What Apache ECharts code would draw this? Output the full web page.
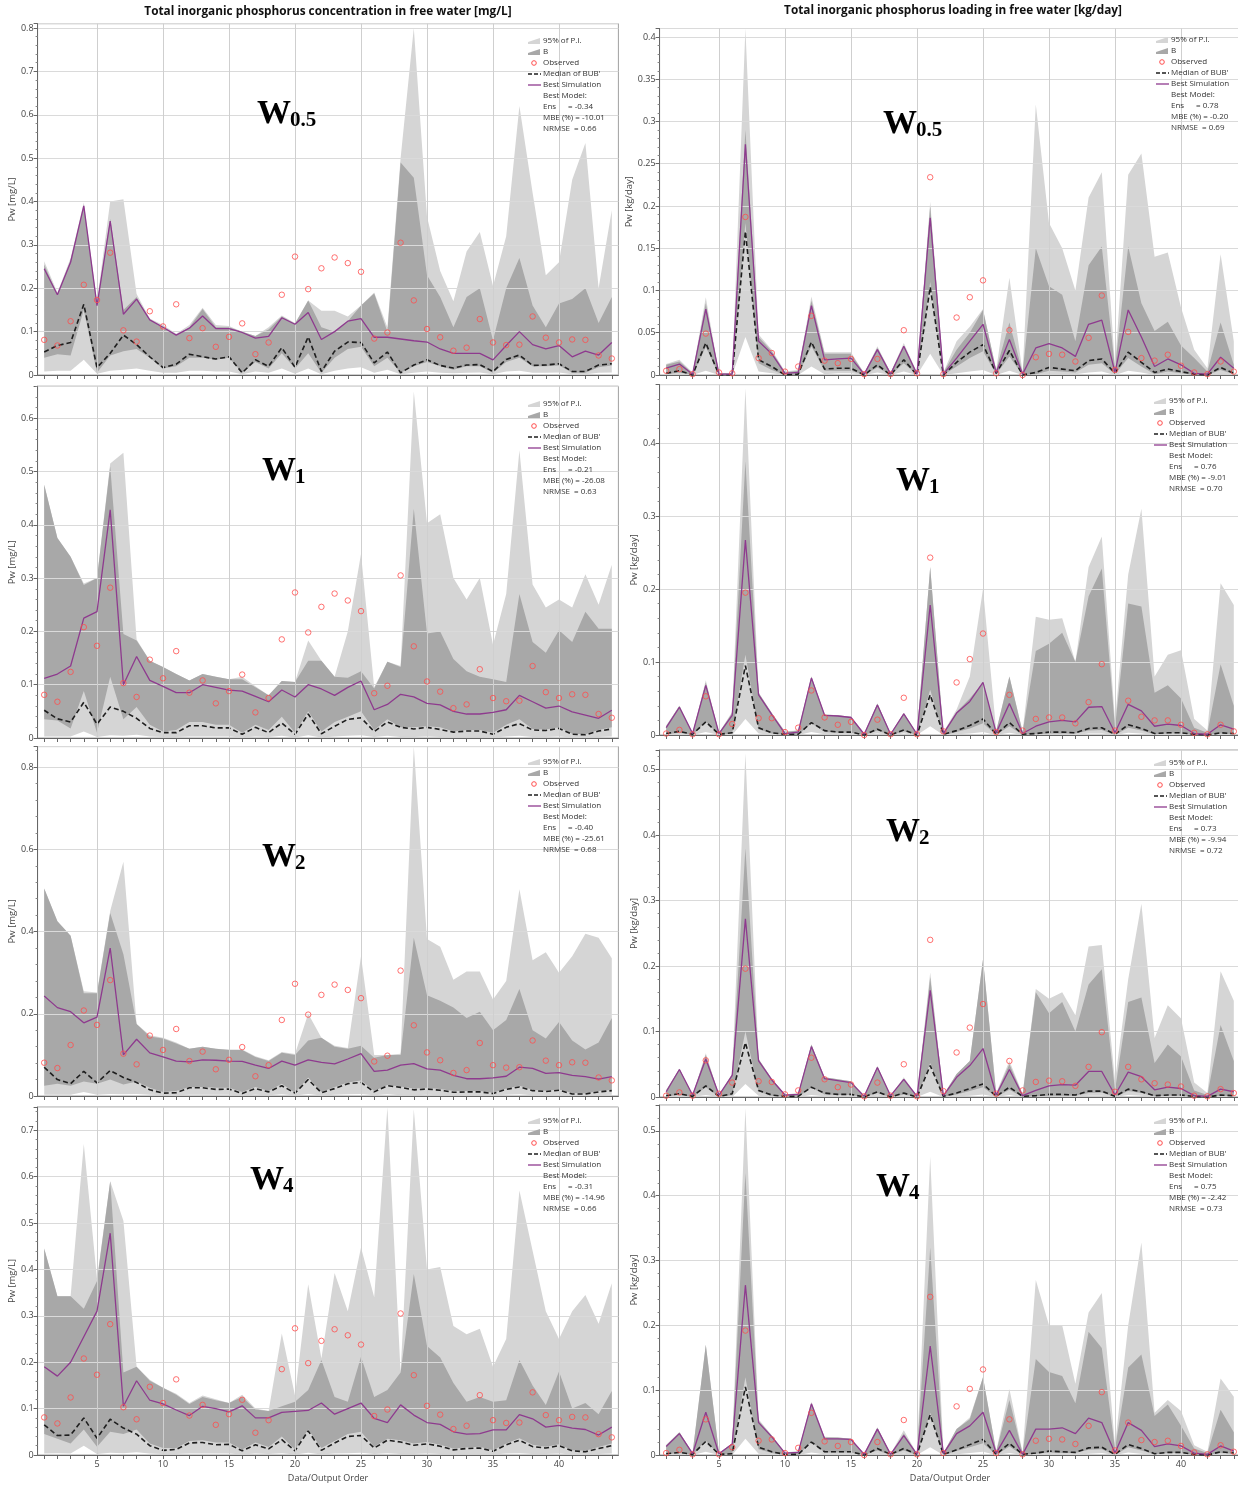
<!DOCTYPE html>
<html><head><meta charset="utf-8">
<script src="https://cdn.jsdelivr.net/npm/echarts@6/dist/echarts.min.js"></script>
<style>html,body{margin:0;padding:0;background:#fff}#c{width:1238px;height:1485px}</style>
</head><body><div id="c"></div>
<script>
// ---------- DATA ----------
const order = [1,2,3,4,5,6,7,8,9,10,11,12,13,14,15,16,17,18,19,20,21,22,23,24,25,26,27,28,29,30,31,32,33,34,35,36,37,38,39,40,41,42,43,44];
const xTickLabels = [5,10,15,20,25,30,35,40];

// Observed concentration [mg/L] (same in all left panels)
const obsConc = [0.081,0.068,0.124,0.208,0.173,0.282,0.103,0.077,0.147,0.112,0.163,0.085,0.108,0.065,0.088,0.119,0.048,0.075,0.185,0.273,0.198,0.246,0.271,0.258,0.238,0.084,0.098,0.305,0.172,0.106,0.087,0.056,0.063,0.129,0.075,0.069,0.07,0.135,0.086,0.075,0.082,0.081,0.045,0.038];

// W0.5 concentration
const c05_piLo = [0.008,0.01,0.01,0.035,0.003,0.01,0.012,0.015,0.01,0.005,0.005,0.01,0.01,0.008,0.008,0.002,0.008,0.005,0.015,0.003,0.015,0.002,0.01,0.015,0.018,0.005,0.012,0.002,0.005,0.008,0.005,0.004,0.005,0.006,0.002,0.008,0.01,0.005,0.005,0.006,0.002,0.002,0.005,0.006];
const c05_piHi = [0.262,0.19,0.27,0.398,0.17,0.4,0.405,0.187,0.13,0.115,0.095,0.115,0.155,0.115,0.113,0.1,0.09,0.11,0.137,0.12,0.172,0.148,0.148,0.135,0.16,0.19,0.11,0.5,0.8,0.365,0.24,0.17,0.285,0.33,0.205,0.32,0.62,0.42,0.23,0.26,0.45,0.535,0.2,0.38];
const c05_bLo = [0.04,0.048,0.045,0.15,0.005,0.045,0.055,0.06,0.04,0.015,0.02,0.04,0.04,0.035,0.04,0.005,0.03,0.015,0.05,0.015,0.05,0.005,0.04,0.06,0.065,0.02,0.04,0.005,0.02,0.03,0.02,0.012,0.02,0.02,0.005,0.03,0.04,0.02,0.02,0.022,0.005,0.005,0.018,0.022];
const c05_bHi = [0.255,0.185,0.265,0.39,0.165,0.36,0.15,0.18,0.127,0.11,0.093,0.11,0.152,0.11,0.11,0.1,0.09,0.105,0.135,0.118,0.172,0.11,0.1,0.124,0.16,0.188,0.1,0.49,0.455,0.23,0.18,0.11,0.18,0.2,0.08,0.2,0.27,0.16,0.11,0.165,0.175,0.2,0.12,0.18];
const c05_med = [0.053,0.068,0.075,0.163,0.017,0.05,0.092,0.07,0.042,0.017,0.025,0.048,0.042,0.037,0.042,0.005,0.035,0.02,0.063,0.018,0.088,0.008,0.055,0.076,0.075,0.028,0.053,0.005,0.023,0.035,0.022,0.016,0.023,0.024,0.008,0.036,0.046,0.022,0.023,0.026,0.008,0.008,0.023,0.026];
const c05_best = [0.245,0.185,0.26,0.39,0.16,0.355,0.14,0.175,0.127,0.11,0.092,0.108,0.136,0.107,0.107,0.098,0.085,0.089,0.132,0.117,0.144,0.082,0.1,0.124,0.13,0.087,0.087,0.083,0.079,0.076,0.06,0.05,0.05,0.05,0.035,0.068,0.1,0.07,0.06,0.068,0.042,0.055,0.046,0.075];

// W1 concentration
const c1_piLo = [0.003,0.003,0.003,0.012,0.002,0.005,0.004,0.006,0.003,0.002,0.002,0.003,0.003,0.003,0.003,0.001,0.003,0.002,0.004,0.001,0.005,0.001,0.003,0.004,0.005,0.002,0.004,0.002,0.002,0.003,0.002,0.002,0.002,0.002,0.001,0.003,0.004,0.002,0.002,0.003,0.001,0.001,0.002,0.003];
const c1_piHi = [0.475,0.375,0.34,0.29,0.3,0.515,0.535,0.185,0.145,0.133,0.12,0.108,0.12,0.115,0.11,0.115,0.097,0.08,0.107,0.105,0.183,0.145,0.115,0.2,0.345,0.095,0.143,0.135,0.65,0.403,0.42,0.3,0.26,0.3,0.175,0.27,0.54,0.288,0.245,0.26,0.245,0.307,0.25,0.325];
const c1_bLo = [0.035,0.033,0.018,0.088,0.01,0.115,0.035,0.058,0.025,0.012,0.015,0.03,0.03,0.025,0.025,0.01,0.025,0.015,0.04,0.01,0.05,0.012,0.03,0.04,0.05,0.015,0.035,0.02,0.02,0.022,0.02,0.012,0.015,0.015,0.01,0.025,0.035,0.017,0.016,0.02,0.008,0.007,0.015,0.02];
const c1_bHi = [0.475,0.375,0.34,0.287,0.3,0.51,0.195,0.183,0.145,0.133,0.12,0.108,0.12,0.115,0.11,0.11,0.095,0.08,0.107,0.105,0.145,0.145,0.115,0.113,0.125,0.093,0.143,0.133,0.43,0.196,0.2,0.148,0.125,0.115,0.11,0.105,0.27,0.18,0.16,0.202,0.18,0.237,0.205,0.205];
const c1_med = [0.052,0.036,0.03,0.067,0.026,0.058,0.05,0.037,0.018,0.01,0.01,0.023,0.023,0.019,0.019,0.007,0.02,0.01,0.028,0.007,0.045,0.008,0.022,0.035,0.038,0.012,0.03,0.02,0.017,0.02,0.016,0.011,0.013,0.013,0.007,0.02,0.027,0.015,0.014,0.018,0.007,0.006,0.013,0.017];
const c1_best = [0.112,0.12,0.135,0.225,0.237,0.428,0.1,0.153,0.108,0.097,0.085,0.085,0.1,0.095,0.09,0.088,0.078,0.068,0.09,0.077,0.1,0.092,0.08,0.095,0.107,0.053,0.063,0.082,0.077,0.065,0.062,0.05,0.045,0.045,0.048,0.053,0.08,0.068,0.056,0.06,0.049,0.043,0.037,0.052];

// W2 concentration
const c2_piLo = [0.003,0.003,0.003,0.01,0.003,0.005,0.004,0.005,0.003,0.002,0.002,0.003,0.003,0.003,0.003,0.001,0.003,0.002,0.004,0.001,0.005,0.001,0.003,0.004,0.005,0.002,0.004,0.002,0.002,0.003,0.002,0.002,0.002,0.002,0.001,0.003,0.004,0.002,0.002,0.003,0.001,0.001,0.002,0.003];
const c2_piHi = [0.505,0.425,0.39,0.255,0.252,0.45,0.57,0.175,0.148,0.142,0.13,0.115,0.12,0.115,0.113,0.113,0.097,0.087,0.107,0.102,0.2,0.142,0.122,0.117,0.34,0.1,0.1,0.103,0.85,0.382,0.363,0.283,0.303,0.303,0.235,0.28,0.503,0.33,0.35,0.3,0.34,0.395,0.385,0.335];
const c2_bLo = [0.025,0.03,0.025,0.035,0.03,0.04,0.028,0.035,0.02,0.01,0.012,0.022,0.022,0.02,0.02,0.01,0.022,0.012,0.03,0.008,0.045,0.01,0.022,0.033,0.038,0.012,0.027,0.023,0.018,0.02,0.017,0.012,0.012,0.012,0.008,0.018,0.025,0.015,0.013,0.016,0.007,0.006,0.012,0.015];
const c2_bHi = [0.505,0.425,0.39,0.25,0.25,0.445,0.345,0.175,0.145,0.14,0.128,0.115,0.12,0.115,0.112,0.112,0.095,0.085,0.105,0.1,0.135,0.142,0.12,0.115,0.122,0.093,0.1,0.1,0.385,0.245,0.232,0.215,0.19,0.205,0.16,0.185,0.26,0.16,0.14,0.18,0.135,0.113,0.13,0.19];
const c2_med = [0.07,0.04,0.03,0.06,0.032,0.062,0.045,0.033,0.015,0.007,0.008,0.02,0.02,0.016,0.017,0.006,0.018,0.01,0.025,0.007,0.04,0.008,0.018,0.03,0.033,0.01,0.025,0.021,0.015,0.017,0.014,0.009,0.01,0.01,0.006,0.016,0.022,0.013,0.011,0.014,0.005,0.005,0.01,0.013];
const c2_best = [0.243,0.215,0.205,0.178,0.192,0.36,0.1,0.138,0.105,0.095,0.085,0.083,0.088,0.087,0.085,0.084,0.075,0.067,0.085,0.075,0.088,0.082,0.078,0.09,0.103,0.06,0.063,0.075,0.079,0.066,0.063,0.05,0.042,0.042,0.044,0.048,0.07,0.067,0.055,0.057,0.05,0.047,0.041,0.047];

// W4 concentration
const c4_piLo = [0.003,0.004,0.003,0.02,0.002,0.005,0.004,0.006,0.003,0.002,0.002,0.003,0.003,0.003,0.003,0.001,0.003,0.002,0.004,0.001,0.005,0.001,0.003,0.004,0.005,0.002,0.004,0.002,0.002,0.003,0.002,0.002,0.002,0.002,0.001,0.003,0.004,0.002,0.002,0.003,0.001,0.001,0.002,0.003];
const c4_piHi = [0.445,0.342,0.342,0.67,0.38,0.59,0.505,0.19,0.162,0.145,0.132,0.112,0.128,0.12,0.112,0.13,0.1,0.095,0.262,0.128,0.368,0.208,0.392,0.31,0.447,0.34,0.75,0.178,0.745,0.4,0.405,0.278,0.26,0.272,0.19,0.25,0.57,0.44,0.31,0.25,0.31,0.345,0.283,0.37];
const c4_bLo = [0.045,0.035,0.025,0.055,0.018,0.05,0.045,0.055,0.025,0.015,0.015,0.03,0.032,0.027,0.027,0.012,0.027,0.017,0.04,0.012,0.055,0.015,0.03,0.045,0.05,0.018,0.035,0.032,0.025,0.028,0.022,0.014,0.016,0.018,0.01,0.025,0.036,0.022,0.018,0.023,0.01,0.009,0.017,0.025];
const c4_bHi = [0.445,0.342,0.342,0.315,0.375,0.59,0.178,0.19,0.16,0.145,0.13,0.11,0.125,0.118,0.112,0.125,0.098,0.095,0.105,0.115,0.14,0.205,0.125,0.115,0.212,0.125,0.14,0.178,0.39,0.235,0.21,0.155,0.115,0.125,0.115,0.118,0.205,0.15,0.108,0.18,0.1,0.112,0.088,0.138];
const c4_med = [0.065,0.042,0.043,0.08,0.036,0.077,0.058,0.045,0.02,0.01,0.012,0.026,0.027,0.022,0.023,0.009,0.022,0.013,0.033,0.009,0.052,0.01,0.026,0.04,0.042,0.015,0.032,0.028,0.021,0.024,0.019,0.011,0.014,0.015,0.008,0.022,0.032,0.018,0.015,0.02,0.009,0.007,0.014,0.02];
const c4_best = [0.19,0.17,0.2,0.255,0.31,0.478,0.105,0.16,0.118,0.11,0.097,0.085,0.105,0.1,0.093,0.106,0.08,0.08,0.092,0.094,0.096,0.112,0.088,0.1,0.112,0.079,0.07,0.108,0.086,0.07,0.066,0.05,0.045,0.046,0.054,0.054,0.087,0.078,0.06,0.064,0.058,0.055,0.043,0.06];

// W0.5 loading [kg/day]
const l05_obs = [0.005,0.007,0.001,0.049,0.003,0.002,0.187,0.02,0.026,0.004,0.01,0.07,0.017,0.014,0.019,0.001,0.019,0.001,0.053,0.002,0.234,0.001,0.068,0.092,0.112,0.002,0.053,0,0.021,0.025,0.024,0.016,0.044,0.094,0.006,0.051,0.02,0.017,0.024,0.011,0.003,0.001,0.016,0.004];
const l05_piLo = [0,0.001,0,0.005,0,0,0.045,0.004,0.002,0,0,0.01,0.001,0.002,0.002,0,0.003,0,0.004,0,0.025,0,0.002,0.004,0.006,0,0.005,0,0,0.001,0.001,0.001,0.003,0.004,0,0.005,0.003,0,0.001,0,0,0,0.001,0];
const l05_piHi = [0.013,0.018,0.003,0.092,0.002,0.002,0.41,0.048,0.03,0.004,0.006,0.093,0.027,0.027,0.027,0.002,0.034,0.003,0.038,0.003,0.205,0.003,0.04,0.057,0.078,0.006,0.115,0.003,0.32,0.18,0.15,0.1,0.21,0.24,0.01,0.237,0.262,0.14,0.145,0.08,0.03,0.008,0.143,0.04];
const l05_bLo = [0.001,0.003,0,0.033,0,0,0.18,0.014,0.006,0,0,0.034,0.005,0.005,0.005,0,0.009,0,0.014,0,0.11,0,0.01,0.02,0.028,0.001,0.022,0,0.001,0.005,0.004,0.003,0.012,0.014,0.001,0.02,0.01,0.001,0.004,0.002,0,0,0.006,0.001];
const l05_bHi = [0.012,0.016,0.002,0.085,0.002,0.002,0.29,0.045,0.028,0.003,0.005,0.088,0.025,0.025,0.025,0.002,0.032,0.003,0.035,0.003,0.2,0.003,0.03,0.05,0.077,0.006,0.062,0.003,0.15,0.105,0.095,0.04,0.13,0.152,0.008,0.152,0.085,0.052,0.063,0.035,0.02,0.004,0.062,0.012];
const l05_med = [0.002,0.005,0,0.038,0,0,0.17,0.018,0.01,0,0.001,0.039,0.007,0.008,0.008,0,0.012,0,0.018,0,0.104,0,0.015,0.027,0.036,0.002,0.029,0,0.003,0.009,0.007,0.005,0.017,0.019,0.002,0.027,0.015,0.003,0.007,0.004,0.001,0,0.009,0.002];
const l05_best = [0.008,0.013,0.001,0.078,0.001,0.001,0.273,0.04,0.025,0.002,0.003,0.082,0.018,0.019,0.02,0.001,0.03,0.001,0.034,0.001,0.186,0.001,0.02,0.04,0.06,0.003,0.042,0.001,0.032,0.037,0.032,0.022,0.06,0.065,0.003,0.077,0.045,0.01,0.019,0.012,0.002,0.001,0.021,0.008];

// W1 loading
const l1_obs = [0.002,0.007,0.001,0.053,0.001,0.015,0.195,0.023,0.023,0.004,0.01,0.061,0.024,0.014,0.018,0,0.021,0.001,0.051,0.001,0.243,0.005,0.072,0.104,0.139,0.004,0.055,0.006,0.022,0.024,0.024,0.016,0.045,0.097,0.006,0.047,0.025,0.02,0.02,0.014,0.003,0.001,0.014,0.005];
const l1_piLo = [0,0,0,0.004,0,0,0.022,0.002,0,0,0,0.004,0.001,0.001,0.001,0,0.002,0,0.002,0,0.012,0,0.001,0.002,0.004,0,0.003,0,0,0.001,0.001,0,0.002,0.002,0,0.003,0.002,0,0,0,0,0,0,0];
const l1_piHi = [0.013,0.04,0.003,0.075,0.003,0.032,0.475,0.058,0.03,0.005,0.006,0.08,0.028,0.027,0.025,0.002,0.043,0.002,0.03,0.002,0.23,0.004,0.035,0.08,0.2,0.006,0.08,0.005,0.162,0.158,0.16,0.1,0.23,0.272,0.02,0.22,0.31,0.08,0.11,0.116,0.022,0.006,0.208,0.178];
const l1_bLo = [0.001,0.003,0,0.018,0,0.002,0.11,0.008,0.002,0,0,0.016,0.004,0.003,0.003,0,0.006,0,0.005,0,0.062,0,0.004,0.009,0.016,0,0.012,0,0.001,0.002,0.002,0.002,0.006,0.007,0,0.01,0.006,0.001,0.002,0.002,0,0,0.002,0.001];
const l1_bHi = [0.012,0.04,0.003,0.072,0.003,0.03,0.375,0.058,0.03,0.004,0.006,0.08,0.028,0.027,0.025,0.002,0.043,0.002,0.03,0.002,0.23,0.003,0.032,0.05,0.072,0.005,0.08,0.004,0.115,0.125,0.14,0.1,0.19,0.228,0.01,0.18,0.176,0.058,0.068,0.05,0.01,0.003,0.097,0.04];
const l1_med = [0.002,0.005,0.001,0.018,0.001,0.003,0.095,0.01,0.003,0.001,0.001,0.017,0.006,0.004,0.004,0,0.008,0,0.007,0,0.055,0.001,0.006,0.013,0.022,0.001,0.017,0.001,0.002,0.004,0.004,0.003,0.009,0.01,0.001,0.014,0.009,0.002,0.003,0.003,0.001,0,0.003,0.002];
const l1_best = [0.01,0.038,0.002,0.068,0.002,0.027,0.267,0.055,0.028,0.002,0.004,0.078,0.027,0.026,0.024,0.001,0.041,0.001,0.029,0.001,0.178,0.002,0.03,0.046,0.072,0.003,0.043,0.002,0.012,0.018,0.02,0.018,0.038,0.039,0.003,0.042,0.033,0.012,0.015,0.013,0.002,0.001,0.014,0.008];

// W2 loading
const l2_obs = [0.002,0.007,0.002,0.056,0.005,0.022,0.196,0.024,0.023,0.004,0.01,0.06,0.027,0.015,0.019,0.001,0.022,0.002,0.05,0.001,0.24,0.009,0.068,0.106,0.142,0.005,0.055,0.01,0.023,0.025,0.024,0.017,0.046,0.099,0.008,0.046,0.027,0.021,0.019,0.016,0.002,0.001,0.012,0.006];
const l2_piLo = [0,0,0,0.003,0,0,0.02,0.002,0,0,0,0.003,0.001,0.001,0.001,0,0.002,0,0.002,0,0.008,0,0.001,0.002,0.004,0,0.003,0,0,0.001,0.001,0,0.002,0.002,0,0.003,0.002,0,0,0,0,0,0,0];
const l2_piHi = [0.011,0.043,0.003,0.067,0.003,0.035,0.525,0.058,0.028,0.004,0.006,0.08,0.03,0.027,0.024,0.002,0.047,0.002,0.03,0.002,0.19,0.003,0.035,0.055,0.21,0.006,0.055,0.005,0.165,0.15,0.16,0.125,0.23,0.232,0.025,0.18,0.295,0.09,0.14,0.12,0.022,0.006,0.192,0.147];
const l2_bLo = [0.001,0.003,0,0.015,0,0.003,0.1,0.008,0.002,0,0,0.014,0.004,0.003,0.003,0,0.006,0,0.004,0,0.052,0,0.004,0.009,0.015,0,0.011,0,0.001,0.002,0.002,0.002,0.006,0.007,0,0.009,0.006,0.001,0.002,0.002,0,0,0.002,0.001];
const l2_bHi = [0.01,0.043,0.003,0.064,0.003,0.035,0.38,0.058,0.028,0.004,0.005,0.08,0.03,0.027,0.024,0.002,0.047,0.002,0.028,0.002,0.183,0.003,0.035,0.055,0.21,0.005,0.05,0.004,0.16,0.128,0.145,0.1,0.172,0.195,0.01,0.145,0.152,0.052,0.08,0.062,0.01,0.003,0.11,0.055];
const l2_med = [0.002,0.005,0.001,0.017,0.001,0.005,0.083,0.01,0.003,0.001,0.001,0.015,0.006,0.004,0.004,0,0.008,0,0.006,0,0.048,0.001,0.006,0.013,0.02,0.001,0.015,0.001,0.002,0.004,0.004,0.003,0.009,0.009,0.001,0.012,0.008,0.002,0.003,0.003,0.001,0,0.003,0.002];
const l2_best = [0.008,0.042,0.003,0.058,0.003,0.033,0.272,0.055,0.026,0.003,0.004,0.077,0.028,0.025,0.022,0.001,0.045,0.002,0.027,0.001,0.163,0.002,0.03,0.048,0.074,0.003,0.042,0.002,0.01,0.017,0.019,0.018,0.039,0.039,0.003,0.038,0.031,0.011,0.015,0.013,0.002,0.001,0.012,0.008];

// W4 loading
const l4_obs = [0.003,0.008,0.001,0.055,0.001,0.012,0.192,0.022,0.024,0.003,0.011,0.065,0.021,0.014,0.02,0,0.02,0.001,0.054,0.001,0.244,0.003,0.075,0.102,0.132,0.003,0.055,0.001,0.022,0.025,0.024,0.017,0.045,0.097,0.007,0.05,0.023,0.02,0.022,0.014,0.004,0.001,0.015,0.005];
const l4_piLo = [0,0,0,0.005,0,0,0.025,0.002,0,0,0,0.004,0.001,0.001,0.001,0,0.002,0,0.002,0,0.012,0,0.001,0.003,0.005,0,0.003,0,0,0.001,0.001,0,0.002,0.003,0,0.004,0.002,0,0,0,0,0,0,0];
const l4_piHi = [0.016,0.035,0.003,0.17,0.003,0.018,0.535,0.055,0.03,0.004,0.006,0.082,0.028,0.027,0.025,0.002,0.043,0.002,0.038,0.002,0.46,0.003,0.04,0.058,0.12,0.006,0.102,0.004,0.27,0.2,0.2,0.11,0.22,0.25,0.015,0.2,0.328,0.065,0.085,0.068,0.015,0.005,0.118,0.09];
const l4_bLo = [0.001,0.003,0,0.022,0,0.001,0.12,0.009,0.003,0,0,0.02,0.004,0.004,0.004,0,0.007,0,0.007,0,0.065,0,0.006,0.012,0.018,0,0.013,0,0.002,0.004,0.003,0.003,0.008,0.009,0,0.012,0.007,0.001,0.003,0.003,0,0,0.003,0.002];
const l4_bHi = [0.015,0.035,0.003,0.17,0.003,0.018,0.435,0.053,0.03,0.004,0.005,0.08,0.027,0.027,0.025,0.002,0.042,0.002,0.033,0.002,0.32,0.003,0.04,0.055,0.12,0.005,0.085,0.003,0.148,0.128,0.122,0.08,0.19,0.165,0.01,0.135,0.155,0.06,0.078,0.045,0.01,0.003,0.07,0.035];
const l4_med = [0.002,0.004,0.001,0.021,0.001,0.002,0.105,0.012,0.005,0.001,0.001,0.02,0.005,0.005,0.005,0,0.01,0.001,0.01,0.001,0.062,0.001,0.008,0.016,0.024,0.001,0.018,0.001,0.003,0.006,0.005,0.004,0.011,0.012,0.001,0.016,0.01,0.002,0.004,0.004,0.001,0,0.005,0.003];
const l4_best = [0.013,0.033,0.002,0.066,0.002,0.017,0.262,0.05,0.028,0.003,0.004,0.079,0.025,0.025,0.024,0.001,0.04,0.001,0.03,0.001,0.168,0.002,0.033,0.045,0.066,0.003,0.038,0.001,0.04,0.04,0.042,0.033,0.057,0.05,0.003,0.05,0.038,0.013,0.017,0.014,0.003,0.001,0.014,0.006];

// Best-model statistics text [Ens, MBE, NRMSE]
const stats_c05 = ['-0.34','-10.01','0.66'];
const stats_l05 = ['0.78','-0.20','0.69'];
const stats_c1 = ['-0.21','-26.08','0.63'];
const stats_l1 = ['0.76','-9.01','0.70'];
const stats_c2 = ['-0.40','-25.61','0.68'];
const stats_l2 = ['0.73','-9.94','0.72'];
const stats_c4 = ['-0.31','-14.96','0.66'];
const stats_l4 = ['0.75','-2.42','0.73'];
const legendNames = ['95% of P.I.', 'B', 'Observed', "Median of BUB'", 'Best Simulation'];

// ---------- STYLE / LAYOUT ----------
const FONT = "'Open Sans','Liberation Sans',sans-serif";
const SERIF = "'Liberation Serif','Times New Roman',serif";
const LIGHT = '#d5d5d5', DARK = '#a8a8a8', PURPLE = '#8e3a8e', RED = '#ff4d4d', MEDC = '#1e1e1e';
const colL = {left: 37.6, width: 580.8};
const colR = {left: 659.6, width: 580.8};

const panels = [
  {col: colL, top: 23.7, h: 351.3, max: 0.81, iv: 0.1, unit: 'mg/L', sub: '0.5', w: [257, 114], lg: [528, 41], st: stats_c05,
   d: {piLo: c05_piLo, piHi: c05_piHi, bLo: c05_bLo, bHi: c05_bHi, med: c05_med, best: c05_best, obs: obsConc}},
  {col: colR, top: 28.5, h: 346.5, max: 0.41, iv: 0.05, unit: 'kg/day', sub: '0.5', w: [883, 124], lg: [1156, 40], st: stats_l05,
   d: {piLo: l05_piLo, piHi: l05_piHi, bLo: l05_bLo, bHi: l05_bHi, med: l05_med, best: l05_best, obs: l05_obs}},
  {col: colL, top: 386.2, h: 351.8, max: 0.66, iv: 0.1, unit: 'mg/L', sub: '1', w: [262, 471], lg: [528, 404], st: stats_c1,
   d: {piLo: c1_piLo, piHi: c1_piHi, bLo: c1_bLo, bHi: c1_bHi, med: c1_med, best: c1_best, obs: obsConc}},
  {col: colR, top: 384.6, h: 350.4, max: 0.48, iv: 0.1, unit: 'kg/day', sub: '1', w: [896, 481], lg: [1154, 401], st: stats_l1,
   d: {piLo: l1_piLo, piHi: l1_piHi, bLo: l1_bLo, bHi: l1_bHi, med: l1_med, best: l1_best, obs: l1_obs}},
  {col: colL, top: 746.6, h: 349.4, max: 0.85, iv: 0.2, unit: 'mg/L', sub: '2', w: [262, 857], lg: [528, 762], st: stats_c2,
   d: {piLo: c2_piLo, piHi: c2_piHi, bLo: c2_bLo, bHi: c2_bHi, med: c2_med, best: c2_best, obs: obsConc}},
  {col: colR, top: 750, h: 347, max: 0.53, iv: 0.1, unit: 'kg/day', sub: '2', w: [886, 832], lg: [1154, 763], st: stats_l2,
   d: {piLo: l2_piLo, piHi: l2_piHi, bLo: l2_bLo, bHi: l2_bHi, med: l2_med, best: l2_best, obs: l2_obs}},
  {col: colL, top: 1107, h: 348, max: 0.75, iv: 0.1, unit: 'mg/L', sub: '4', w: [250, 1180], lg: [528, 1121], st: stats_c4, bottom: true,
   d: {piLo: c4_piLo, piHi: c4_piHi, bLo: c4_bLo, bHi: c4_bHi, med: c4_med, best: c4_best, obs: obsConc}},
  {col: colR, top: 1105, h: 350, max: 0.54, iv: 0.1, unit: 'kg/day', sub: '4', w: [876, 1187], lg: [1154, 1121], st: stats_l4, bottom: true,
   d: {piLo: l4_piLo, piHi: l4_piHi, bLo: l4_bLo, bHi: l4_bHi, med: l4_med, best: l4_best, obs: l4_obs}}
];

function pairs(arr) { return arr.map((v, i) => [order[i], v]); }

// Band drawn as one polygon through the axes' coordinate conversion
function band(i, name, lo, hi, color) {
  return {type: 'custom', name: name, xAxisIndex: i, yAxisIndex: i, silent: true, z: 2,
    data: order.map((x, k) => [x, lo[k], hi[k]]),
    encode: {x: 0, y: [1, 2]},
    itemStyle: {color: color},
    renderItem: function (params, api) {
      if (params.dataIndex !== 0) return null;
      const pts = [];
      for (let k = 0; k < order.length; k++) pts.push(api.coord([order[k], hi[k]]));
      for (let k = order.length - 1; k >= 0; k--) pts.push(api.coord([order[k], lo[k]]));
      return {type: 'polygon', shape: {points: pts}, style: {fill: color}};
    }};
}

const grid = [], xAxis = [], yAxis = [], series = [], graphic = [];

panels.forEach((p, i) => {
  grid.push({left: p.col.left, top: p.top, width: p.col.width, height: p.h, show: true,
    borderColor: '#a0a0a0', borderWidth: 1, containLabel: false, outerBoundsMode: 'none'});
  xAxis.push({type: 'value', gridIndex: i, min: 0.5, max: 44.5, z: 3,
    splitLine: {show: false},
    axisLine: {show: true, onZero: false, lineStyle: {color: '#666', width: 1}},
    axisTick: {show: true, customValues: order, length: 4, lineStyle: {color: '#666'}},
    axisLabel: {show: !!p.bottom, customValues: xTickLabels, fontSize: 9, color: '#444', fontFamily: FONT, margin: 5},
    name: p.bottom ? 'Data/Output Order' : '', nameLocation: 'middle', nameGap: 19,
    nameTextStyle: {fontSize: 9, color: '#444', fontFamily: FONT}});
  yAxis.push({type: 'value', gridIndex: i, min: 0, max: p.max, interval: p.iv, z: 3,
    axisLine: {show: true, lineStyle: {color: '#666'}},
    axisTick: {show: true, length: 4, lineStyle: {color: '#666'}},
    minorTick: {show: true, splitNumber: 5, length: 2, lineStyle: {color: '#888'}},
    splitLine: {show: true, lineStyle: {color: '#dadada', width: 1.2}},
    axisLabel: {fontSize: 9, color: '#444', fontFamily: FONT, margin: 4, showMaxLabel: false},
    name: 'Pw [' + p.unit + ']', nameLocation: 'middle', nameGap: 20,
    nameTextStyle: {fontSize: 9.5, color: '#444', fontFamily: FONT}});

  const ax = {xAxisIndex: i, yAxisIndex: i};
  series.push(band(i, '95% of P.I.', p.d.piLo, p.d.piHi, LIGHT));
  series.push(band(i, 'B', p.d.bLo, p.d.bHi, DARK));
  // vertical grid lines at labelled x positions
  series.push(Object.assign({type: 'line', name: '_grid', data: [], silent: true, z: 3,
    markLine: {silent: true, symbol: ['none', 'none'], label: {show: false},
      lineStyle: {color: '#cfcfcf', width: 1, type: 'solid'},
      data: xTickLabels.map(v => ({xAxis: v}))}}, ax));
  series.push(Object.assign({type: 'line', name: "Median of BUB'", data: pairs(p.d.med), symbol: 'none',
    lineStyle: {color: MEDC, width: 1.6, type: [5, 3]}, itemStyle: {color: MEDC}, z: 4}, ax));
  series.push(Object.assign({type: 'line', name: 'Best Simulation', data: pairs(p.d.best), symbol: 'none',
    lineStyle: {color: PURPLE, width: 1.3}, itemStyle: {color: PURPLE}, z: 5}, ax));
  series.push(Object.assign({type: 'scatter', name: 'Observed', data: pairs(p.d.obs), symbol: 'circle',
    symbolSize: 5.5, itemStyle: {color: 'rgba(255,255,255,0)', borderColor: RED, borderWidth: 1}, z: 6}, ax));

  // legend (icons + labels) and statistics
  const ix = p.lg[0], y0 = p.lg[1], tx = ix + 15, ROW = 11;
  const ts = {fontFamily: FONT, fontSize: 8, fill: '#333', verticalAlign: 'middle', align: 'left'};
  const G = (o) => { o.silent = true; o.z = 10; graphic.push(o); };
  G({type: 'polygon', shape: {points: [[ix, y0 + 3], [ix, y0 + 1], [ix + 12, y0 - 3], [ix + 12, y0 + 3]]}, style: {fill: LIGHT}});
  G({type: 'polygon', shape: {points: [[ix, y0 + ROW + 3], [ix, y0 + ROW + 1], [ix + 12, y0 + ROW - 3], [ix + 12, y0 + ROW + 3]]}, style: {fill: DARK}});
  G({type: 'circle', shape: {cx: ix + 6, cy: y0 + 2 * ROW, r: 2.3}, style: {fill: 'none', stroke: RED, lineWidth: 1}});
  G({type: 'line', shape: {x1: ix, y1: y0 + 3 * ROW, x2: ix + 13, y2: y0 + 3 * ROW}, style: {stroke: MEDC, lineWidth: 1.6, lineDash: [4, 2]}});
  G({type: 'line', shape: {x1: ix, y1: y0 + 4 * ROW, x2: ix + 13, y2: y0 + 4 * ROW}, style: {stroke: PURPLE, lineWidth: 1.3}});
  legendNames.forEach((n, k) => G({type: 'text', x: tx, y: y0 + k * ROW, style: Object.assign({text: n}, ts)}));
  G({type: 'text', x: tx, y: y0 + 5 * ROW, style: Object.assign({text: 'Best Model:'}, ts)});
  G({type: 'text', x: tx, y: y0 + 6 * ROW, style: Object.assign({text: 'Ens'}, ts)});
  G({type: 'text', x: tx + 25, y: y0 + 6 * ROW, style: Object.assign({text: '= ' + p.st[0]}, ts)});
  G({type: 'text', x: tx, y: y0 + 7 * ROW, style: Object.assign({text: 'MBE (%) = ' + p.st[1]}, ts)});
  G({type: 'text', x: tx, y: y0 + 8 * ROW, style: Object.assign({text: 'NRMSE'}, ts)});
  G({type: 'text', x: tx + 31, y: y0 + 8 * ROW, style: Object.assign({text: '= ' + p.st[2]}, ts)});

  G({type: 'text', x: p.w[0], y: p.w[1],
    style: {text: 'W', font: 'bold 34px ' + SERIF, fill: '#000', verticalAlign: 'middle', align: 'left'}});
  G({type: 'text', x: p.w[0] + 33, y: p.w[1] + 7,
    style: {text: p.sub, font: 'bold 21px ' + SERIF, fill: '#000', verticalAlign: 'middle', align: 'left'}});
});

graphic.push({type: 'text', x: 328, y: 12, silent: true,
  style: {text: 'Total inorganic phosphorus concentration in free water [mg/L]', font: 'bold 11.8px ' + FONT, fill: '#111', align: 'center', verticalAlign: 'middle'}});
graphic.push({type: 'text', x: 953, y: 11, silent: true,
  style: {text: 'Total inorganic phosphorus loading in free water [kg/day]', font: 'bold 11.8px ' + FONT, fill: '#111', align: 'center', verticalAlign: 'middle'}});

const chart = echarts.init(document.getElementById('c'), null, {renderer: 'canvas', width: 1238, height: 1485});
chart.setOption({
  animation: false,
  backgroundColor: '#fff',
  grid, xAxis, yAxis, series, graphic,
  tooltip: {show: false}
});
</script>
</body></html>
